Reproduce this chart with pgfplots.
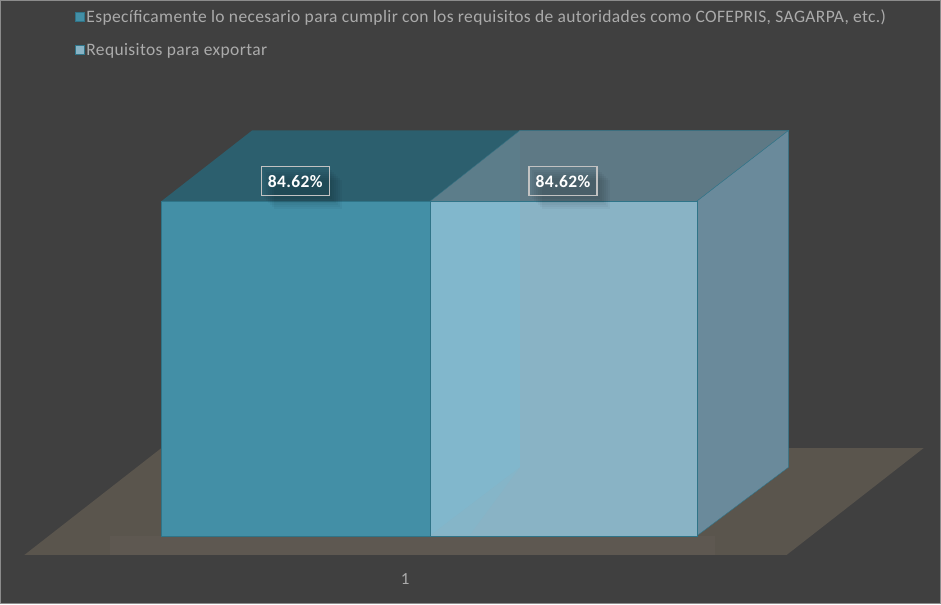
\documentclass[border=0pt]{standalone}
\usepackage{pgfplots}
\pgfplotsset{compat=1.18}
\usepackage{fontspec}
\setmainfont{Carlito}
\newfontfamily\spaced[LetterSpace=2.1]{Carlito}
\usetikzlibrary{shadows}
\definecolor{bg}{HTML}{404040}
\definecolor{floorc}{HTML}{5A554D}
\definecolor{floorb}{HTML}{5E5851}
\definecolor{edgec}{HTML}{2F7488}
\definecolor{aF}{HTML}{438FA6}
\definecolor{aT}{HTML}{2C5F6E}
\definecolor{bF}{HTML}{89B3C5}
\definecolor{bM}{HTML}{85B5C8}
\definecolor{bB}{HTML}{81B7CC}
\definecolor{bT}{HTML}{5E7985}
\definecolor{bTb}{HTML}{5C7D8A}
\definecolor{bS}{HTML}{6A8A9B}
\definecolor{legtext}{HTML}{ABABAB}
\begin{document}
\begin{tikzpicture}
\begin{axis}[
  scale only axis, width=941pt, height=604pt,
  xmin=0, xmax=941, ymin=-17.18, ymax=135.39,
  axis background/.style={fill=bg},
  axis line style={draw=gray!90, line width=1pt},
  ytick=\empty, xtick={405}, xticklabels={1},
  major tick length=0pt,
  x tick label style={yshift=34pt, text=legtext, font=\fontsize{17}{19}\selectfont},
  clip=true,
  legend cell align=left,
  legend style={at={(axis cs:74,133.5)}, anchor=north west, draw=none, fill=none,
    text=legtext, font=\spaced\fontsize{17.5}{20}\selectfont, row sep=15pt, inner sep=0pt,
    /tikz/every even column/.append style={column sep=6pt}},
  legend image code/.code={\path[#1, line width=0.8pt] (0pt,-4.5pt) rectangle (9pt,4.5pt);},
]
% floor
\addplot[fill=floorc, draw=none, forget plot] coordinates {(24,-4.8) (787,-4.8) (924,22.2) (161,22.2)} --cycle;
\addplot[fill=floorb, draw=none, forget plot] coordinates {(110,-4.8) (715,-4.8) (715,0) (110,0)} --cycle;
% bar 1 top
\addplot[fill=aT, draw=none, forget plot] coordinates {(161,84.62) (252,102.55) (520,102.55) (430,84.62)} --cycle;
% bar 2 top and right side
\addplot[fill=bT, draw=edgec, forget plot] coordinates {(430,84.62) (520,102.55) (789,102.55) (697,84.62)} --cycle;
\addplot[fill=bTb, draw=none, forget plot] coordinates {(431,84.62) (520,102.3) (520,84.62)} --cycle;
\addplot[fill=bS, draw=edgec, forget plot] coordinates {(697,84.62) (789,102.55) (789,17.4) (697,0)} --cycle;
% bar fronts: values
\addplot[fill=aF, draw=edgec] coordinates {(161,0) (161,84.62) (430,84.62) (430,0)} --cycle;
\addplot[fill=bF, draw=edgec] coordinates {(430,0) (430,84.62) (697,84.62) (697,0)} --cycle;
\addplot[fill=bM, draw=none, forget plot] coordinates {(431,0.3) (470,0.3) (520,17.4)} --cycle;
\addplot[fill=bB, draw=none, forget plot] coordinates {(431,0.3) (431,84.3) (520,84.3) (520,17.4)} --cycle;
% data labels
\addplot[draw=none, mark=none, forget plot, point meta=y,
  nodes near coords={\pgfmathprintnumber[/pgf/number format/assume math mode=true,fixed,fixed zerofill,precision=2]{\pgfplotspointmeta}\%},
  every node near coord/.style={anchor=center, yshift=20pt, text=white, font=\spaced\fontsize{17.5}{20}\selectfont\bfseries,
    draw=white!68!bg, line width=1.3pt, minimum width=68pt, minimum height=29pt, inner sep=0pt,
    general shadow={fill=black, opacity=0.035, shadow xshift=3pt, shadow yshift=-3pt},
    general shadow={fill=black, opacity=0.035, shadow xshift=5pt, shadow yshift=-5pt},
    general shadow={fill=black, opacity=0.035, shadow xshift=7pt, shadow yshift=-7pt},
    general shadow={fill=black, opacity=0.035, shadow xshift=9pt, shadow yshift=-9pt},
    general shadow={fill=black, opacity=0.035, shadow xshift=11pt, shadow yshift=-11pt},
    general shadow={fill=black, opacity=0.035, shadow xshift=13pt, shadow yshift=-13pt}}]
  coordinates {(295,84.62) (563,84.62)};
\legend{{Específicamente lo necesario para cumplir con los requisitos de autoridades como COFEPRIS, SAGARPA, etc.)},{Requisitos para exportar}}
\end{axis}
\end{tikzpicture}
\end{document}
